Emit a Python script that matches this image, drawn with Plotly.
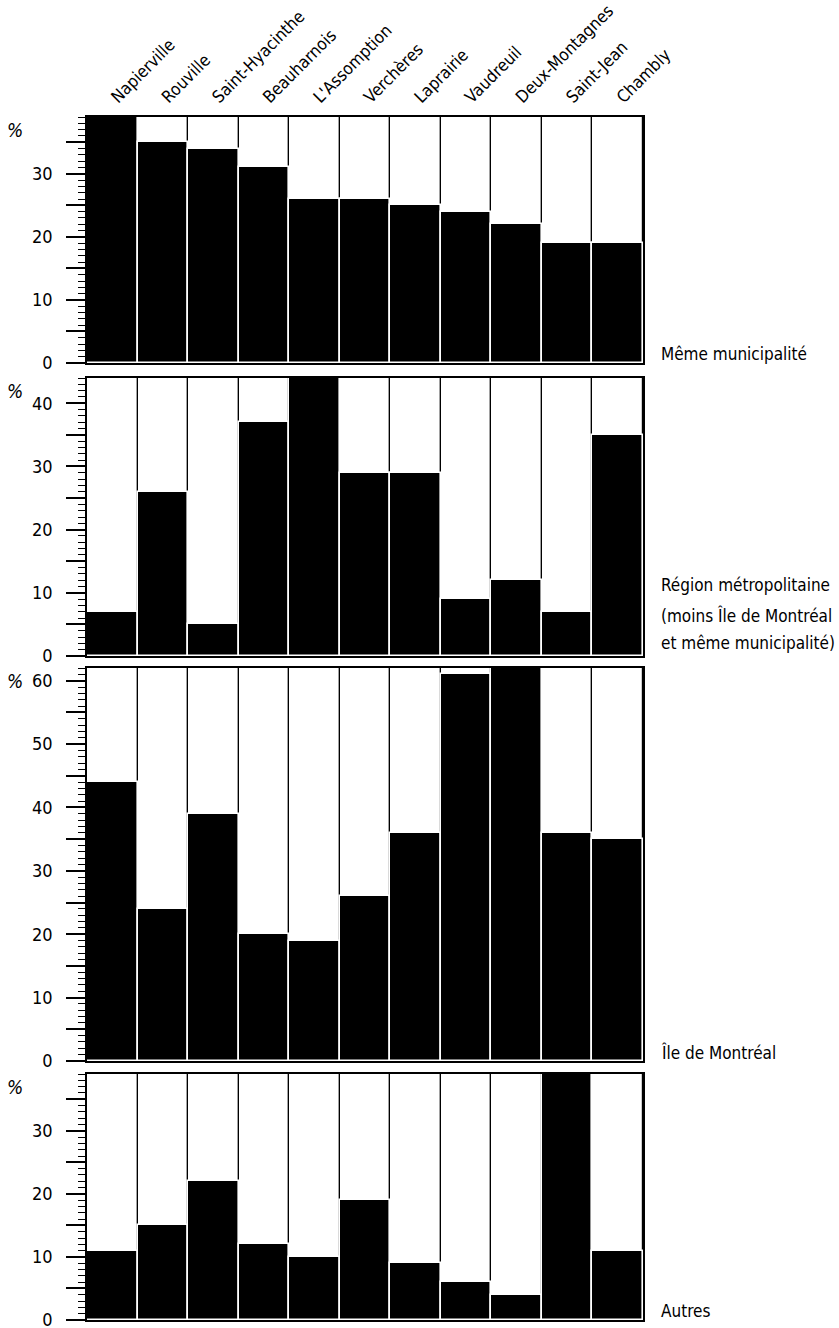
import plotly.graph_objects as go

# ---------------- data ----------------
categories = ["Napierville", "Rouville", "Saint-Hyacinthe", "Beauharnois", "L'Assomption",
              "Verchères", "Laprairie", "Vaudreuil", "Deux-Montagnes", "Saint-Jean", "Chambly"]
meme_municipalite = [39, 35, 34, 31, 26, 26, 25, 24, 22, 19, 19]
region_metro = [7, 26, 5, 37, 44, 29, 29, 9, 12, 7, 35]
ile_montreal = [44, 24, 39, 20, 19, 26, 36, 61, 62, 36, 35]
autres = [11, 15, 22, 12, 10, 19, 9, 6, 4, 39, 11]
panel_labels = [["Même municipalité"],
                ["Région métropolitaine", "(moins Île de Montréal", "et même municipalité)"],
                ["Île de Montréal"],
                ["Autres"]]
series = [meme_municipalite, region_metro, ile_montreal, autres]

# ---------------- geometry ----------------
W, H = 839, 1328
L, R = 87, 643
panels_px = [(117, 363), (378, 656), (668, 1061), (1074, 1320)]
T, B = panels_px[0][0], panels_px[-1][1]
FONT = "DejaVu Sans Condensed, Liberation Sans Narrow, DejaVu Sans, sans-serif"

def yf(py):
    return (B - py) / (B - T)

def xf(px):
    return (px - L) / (R - L)

fig = go.Figure()
annotations = []
for i, (vals, (ptop, pbot)) in enumerate(zip(series, panels_px)):
    n = i + 1
    xa = "x" if n == 1 else f"x{n}"
    ya = "y" if n == 1 else f"y{n}"
    top = max(vals)
    # white full-height boxes
    fig.add_trace(go.Bar(x=categories, y=[top] * len(vals), xaxis=xa, yaxis=ya,
                         marker=dict(color="white", line=dict(color="black", width=1.2)),
                         hoverinfo="skip", showlegend=False))
    # black value bars
    fig.add_trace(go.Bar(x=categories, y=vals, xaxis=xa, yaxis=ya,
                         marker=dict(color="black", line=dict(color="white", width=1.6)),
                         showlegend=False))
    xkey = "xaxis" if n == 1 else f"xaxis{n}"
    ykey = "yaxis" if n == 1 else f"yaxis{n}"
    xaxis = dict(domain=[0, 1], anchor=ya, showline=True, mirror=True, linecolor="black",
                 linewidth=1.5, showgrid=False, zeroline=False, automargin=False,
                 fixedrange=True)
    if n == 1:
        xaxis.update(side="top", tickangle=-45, ticks="", showticklabels=True,
                     tickfont=dict(family=FONT, size=17, color="black"),
                     ticklabelstandoff=2, ticklabeloverflow="allow")
    else:
        xaxis.update(showticklabels=False, ticks="", matches="x")
    tickvals = list(range(0, int(top) + 1, 5))
    ticktext = [str(v) if v % 10 == 0 else "" for v in tickvals]
    yaxis = dict(domain=[yf(pbot), yf(ptop)], anchor=xa, range=[0, top],
                 showline=True, mirror=True, linecolor="black", linewidth=1.5,
                 showgrid=False, zeroline=False, automargin=False, fixedrange=True,
                 tickmode="array", tickvals=tickvals, ticktext=ticktext,
                 ticks="outside", ticklen=19, tickwidth=1.6, tickcolor="black",
                 ticklabelstandoff=10, ticklabeloverflow="allow",
                 tickfont=dict(family=FONT, size=18, color="black"),
                 minor=dict(dtick=1, ticks="outside", ticklen=7, tickwidth=1.4,
                            tickcolor="black", showgrid=False))
    fig.update_layout({xkey: xaxis, ykey: yaxis})
    # % label
    annotations.append(dict(text="<i>%</i>", xref="paper", yref="paper",
                            x=xf(15), y=yf(ptop + 13), xanchor="center", yanchor="middle",
                            showarrow=False, font=dict(family=FONT, size=19, color="black")))
    # right-side label(s)
    lines = panel_labels[i]
    if len(lines) == 1:
        centers = [pbot - 9]
    else:
        centers = [585, 615, 643]
    for txt, cy in zip(lines, centers):
        annotations.append(dict(text=txt, xref="paper", yref="paper",
                                x=xf(659), y=yf(cy), xanchor="left", yanchor="middle",
                                showarrow=False, font=dict(family=FONT, size=17, color="black")))

fig.update_layout(width=W, height=H, barmode="overlay", bargap=0,
                  margin=dict(l=L, r=W - R, t=T, b=H - B),
                  paper_bgcolor="white", plot_bgcolor="white",
                  annotations=annotations, showlegend=False)
fig.write_html("out.html", config={"displayModeBar": False},
               post_script="document.body.style.margin='0';document.body.style.overflow='hidden';")
